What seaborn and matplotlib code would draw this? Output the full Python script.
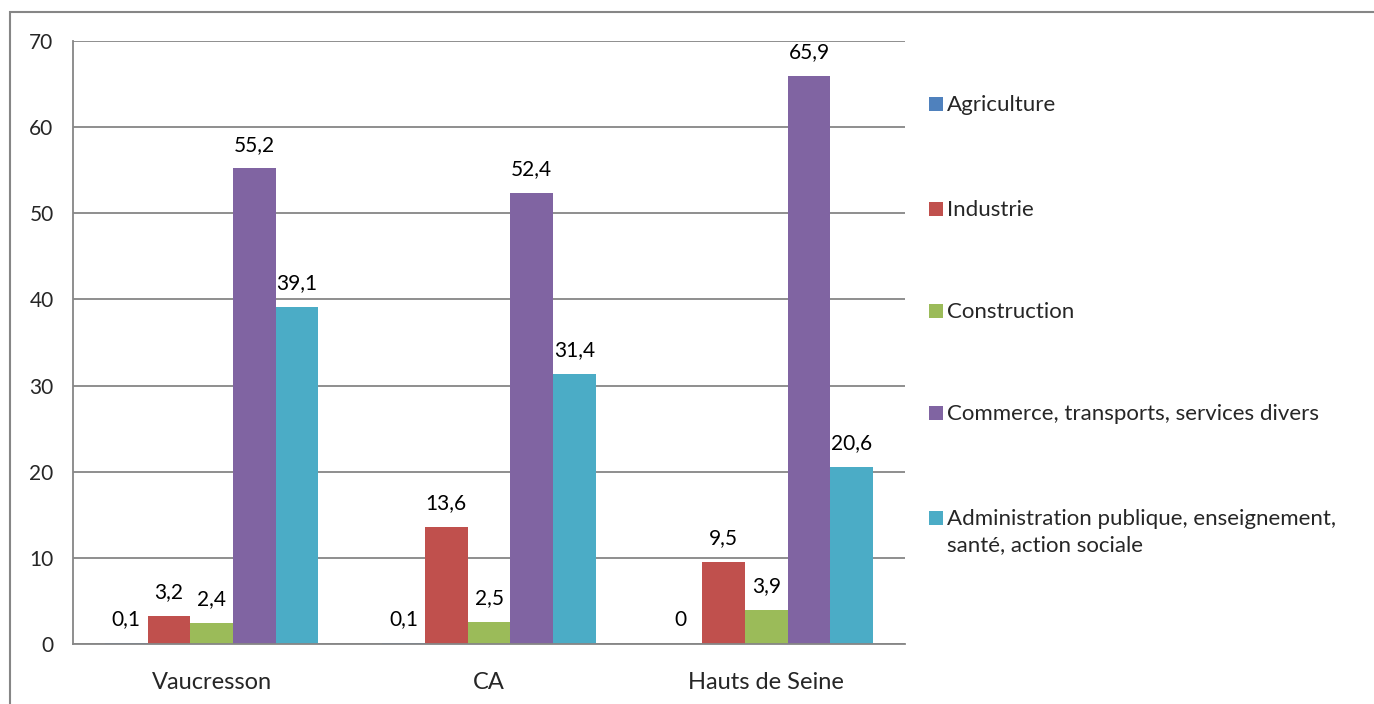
import textwrap
import seaborn as sns
import matplotlib.pyplot as plt
import pandas as pd
from matplotlib.patches import Rectangle

# Data
zones = ["Vaucresson", "CA", "Hauts de Seine"]
sectors = [
    "Agriculture",
    "Industrie",
    "Construction",
    "Commerce, transports, services divers",
    "Administration publique, enseignement, santé, action sociale",
]
agriculture = [0.1, 0.1, 0]
industrie = [3.2, 13.6, 9.5]
construction = [2.4, 2.5, 3.9]
commerce = [55.2, 52.4, 65.9]
administration = [39.1, 31.4, 20.6]
yticks = [0, 10, 20, 30, 40, 50, 60, 70]

colors = ["#4F81BD", "#C0504D", "#9BBB59", "#8064A2", "#4BACC6"]
grey = "#868686"

# Long-form table for seaborn
series = [agriculture, industrie, construction, commerce, administration]
rows = []
for sector, values in zip(sectors, series):
    for zone, v in zip(zones, values):
        rows.append({"Zone": zone, "Secteur": sector, "Valeur": v})
df = pd.DataFrame(rows)

sns.set_style("white")
plt.rcParams["font.family"] = ["Lato", "DejaVu Sans"]

fig = plt.figure(figsize=(13.74, 7.04), dpi=100)
ax = fig.add_axes([73 / 1374, 1 - 644 / 704, (905 - 73) / 1374, (644 - 41) / 704])

sns.barplot(data=df, x="Zone", y="Valeur", hue="Secteur", hue_order=sectors,
            order=zones, palette=colors, saturation=1, width=0.77, gap=0,
            ax=ax, errorbar=None, legend=False, edgecolor="none")

# Data labels
for container in ax.containers:
    labels = [f"{b.get_height():g}".replace(".", ",") for b in container]
    ax.bar_label(container, labels=labels, padding=10, fontsize=15, color="black")

ax.set_ylim(0, 70)
ax.set_xlim(-0.5, 2.5)
ax.set_yticks(yticks)
ax.set_yticklabels([str(t) for t in yticks], fontsize=15)
ax.tick_params(axis="y", length=6, color=grey, width=1.3, pad=8)
ax.set_xticks(range(len(zones)))
ax.set_xticklabels(zones, fontsize=17)
ax.tick_params(axis="x", which="major", length=0, pad=20)
ax.set_xticks([-0.5, 0.5, 1.5, 2.5], minor=True)
ax.tick_params(axis="x", which="minor", length=7, color=grey, width=1.3)
ax.set_xlabel("")
ax.set_ylabel("")

ax.yaxis.grid(True, color=grey, linewidth=1.3)
ax.set_axisbelow(True)
for side in ["top", "right"]:
    ax.spines[side].set_visible(False)
for side in ["left", "bottom"]:
    ax.spines[side].set_color(grey)
    ax.spines[side].set_linewidth(1.3)

# Custom legend on the right
legend_y = [104, 209, 311, 413, 518]
for sector, color, y in zip(sectors, colors, legend_y):
    yf = 1 - y / 704
    fig.patches.append(Rectangle((929 / 1374, yf - 7 / 704), 14 / 1374, 14 / 704,
                                 transform=fig.transFigure, facecolor=color,
                                 edgecolor="none"))
    fig.text(947 / 1374, yf + 9 / 704, textwrap.fill(sector, 38), fontsize=16,
             va="top", ha="left", linespacing=1.35, transform=fig.transFigure)

# Outer chart border (top and left visible)
fig.patches.append(Rectangle((10 / 1374, -0.1), 1.2, 1.1 - 12 / 704,
                             transform=fig.transFigure, facecolor="none",
                             edgecolor=grey, linewidth=1.5))

fig.savefig("out.png", dpi=100)
